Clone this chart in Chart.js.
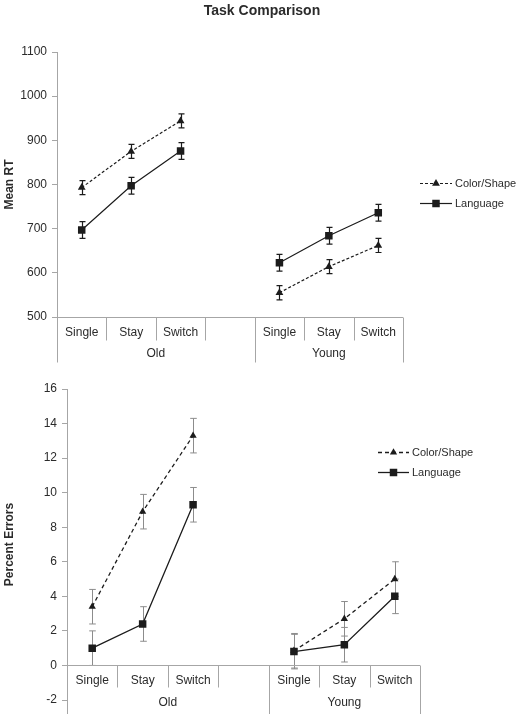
<!DOCTYPE html>
<html><head><meta charset="utf-8">
<script src="https://cdn.jsdelivr.net/npm/chart.js@4/dist/chart.umd.min.js"></script>
<style>
html,body{margin:0;padding:0;background:#fff;}
#wrap{position:relative;width:522px;height:714px;overflow:hidden;background:#fff;}
canvas{position:absolute;left:0;}
</style></head><body>
<div id="wrap">
<canvas id="c1" width="522" height="372" style="top:0px"></canvas>
<canvas id="c2" width="522" height="342" style="top:372px"></canvas>
</div>
<script>
// ---------- data ----------
const chartTitle = 'Task Comparison';
const categories = ['Single', 'Stay', 'Switch', '', 'Single', 'Stay', 'Switch'];
const categoryGroups = ['Old', 'Old', 'Old', 'Old', 'Young', 'Young', 'Young'];
const seriesNames = ['Color/Shape', 'Language'];

const rtTitle = 'Mean RT';
const rtColorShape    = [793, 875, 944, null, 555, 614, 662];
const rtColorShapeErr = [16, 16, 16, null, 16, 16, 16];
const rtLanguage      = [697, 797, 876, null, 623, 684, 736];
const rtLanguageErr   = [19, 19, 19, null, 19, 19, 19];
const rtAxis = { min: 500, max: 1100, step: 100 };

const errTitle = 'Percent Errors';
const errColorShape    = [3.4, 8.9, 13.3, null, 0.85, 2.7, 5.0];
const errColorShapeErr = [1, 1, 1, null, 1, 1, 1];
const errLanguage      = [1.0, 2.4, 9.3, null, 0.8, 1.2, 4.0];
const errLanguageErr   = [1, 1, 1, null, 1, 1, 1];
const errAxis = { min: -2, max: 16, step: 2 };

// ---------- style ----------
const FONT = '"Liberation Sans", Arial, Helvetica, sans-serif';
const AXIS = '#a6a6a6';
const TEXT = '#2b2b2b';
const INK = '#1c1c1c';
Chart.defaults.font.family = FONT;
Chart.defaults.color = TEXT;

function markerPath(ctx, style, x, y, r) {
  ctx.beginPath();
  if (style === 'triangle') {
    ctx.moveTo(x, y - r);
    ctx.lineTo(x + r * 0.866, y + r * 0.5);
    ctx.lineTo(x - r * 0.866, y + r * 0.5);
    ctx.closePath();
  } else {
    const s = r * Math.SQRT1_2;
    ctx.rect(x - s, y - s, 2 * s, 2 * s);
  }
  ctx.fill();
}

const xDecoPlugin = {
  id: 'xdeco',
  afterDraw(chart, args, o) {
    const ctx = chart.ctx, xs = chart.scales.x, ys = chart.scales.y, a = chart.chartArea;
    const n = categories.length;
    const w = (xs.getPixelForValue(1) - xs.getPixelForValue(0));
    const y0 = Math.round(o.axisValue === undefined ? a.bottom : ys.getPixelForValue(o.axisValue)) + 0.5;
    ctx.save();
    ctx.strokeStyle = AXIS; ctx.lineWidth = 1;
    ctx.beginPath(); ctx.moveTo(a.left, y0); ctx.lineTo(a.right, y0); ctx.stroke();
    for (let k = 0; k <= n; k++) {
      const bx = Math.round(xs.getPixelForValue(k) - w / 2) + 0.5;
      const isGroup = k === 0 || k === n || categoryGroups[k] !== categoryGroups[k - 1];
      const len = isGroup ? o.longLen : o.shortLen;
      ctx.beginPath(); ctx.moveTo(bx, y0); ctx.lineTo(bx, y0 + len); ctx.stroke();
    }
    if (o.extendY) {
      const lx = Math.round(a.left) + 0.5;
      ctx.beginPath(); ctx.moveTo(lx, a.bottom); ctx.lineTo(lx, chart.height); ctx.stroke();
    }
    ctx.fillStyle = TEXT; ctx.font = '12px ' + FONT;
    ctx.textAlign = 'center'; ctx.textBaseline = 'middle';
    categories.forEach((c, i) => ctx.fillText(c, xs.getPixelForValue(i), y0 + o.catDy));
    let s = 0;
    while (s < n) {
      let e = s;
      while (e + 1 < n && categoryGroups[e + 1] === categoryGroups[s]) e++;
      const cx = (xs.getPixelForValue(s) + xs.getPixelForValue(e)) / 2;
      ctx.fillText(categoryGroups[s], cx, y0 + o.grpDy);
      s = e + 1;
    }
    if (o.title) {
      ctx.font = 'bold 14px ' + FONT;
      ctx.fillStyle = TEXT;
      ctx.fillText(o.title, chart.width / 2 + 1, o.titleY);
    }
    ctx.restore();
  }
};

const errorBarPlugin = {
  id: 'errbars',
  beforeDatasetsDraw(chart, args, o) {
    const ctx = chart.ctx, xs = chart.scales.x, ys = chart.scales.y;
    ctx.save();
    ctx.strokeStyle = o.color; ctx.lineWidth = o.width;
    chart.data.datasets.forEach(ds => {
      ds.errors.forEach((e, i) => {
        const v = ds.data[i];
        if (v == null || e == null) return;
        const px = Math.round(xs.getPixelForValue(i)) + 0.5;
        const t = ys.getPixelForValue(v + e), b = ys.getPixelForValue(v - e);
        ctx.beginPath();
        ctx.moveTo(px, t); ctx.lineTo(px, b);
        ctx.moveTo(px - o.cap, t); ctx.lineTo(px + o.cap, t);
        ctx.moveTo(px - o.cap, b); ctx.lineTo(px + o.cap, b);
        ctx.stroke();
      });
    });
    ctx.restore();
  }
};

const legendPlugin = {
  id: 'mylegend',
  afterDraw(chart, args, o) {
    const ctx = chart.ctx;
    ctx.save();
    chart.data.datasets.forEach((ds, i) => {
      const y = o.y + i * o.gap;
      ctx.strokeStyle = ds.borderColor; ctx.lineWidth = ds.borderWidth;
      ctx.setLineDash(ds.borderDash || []);
      ctx.beginPath(); ctx.moveTo(o.x, y + 0.5); ctx.lineTo(o.x + o.len, y + 0.5); ctx.stroke();
      ctx.setLineDash([]);
      ctx.fillStyle = ds.pointBackgroundColor;
      markerPath(ctx, ds.pointStyle, o.x + o.len / 2, y + 0.5, ds.pointRadius);
      ctx.fillStyle = TEXT; ctx.font = '11px ' + FONT;
      ctx.textAlign = 'left'; ctx.textBaseline = 'middle';
      ctx.fillText(ds.label, o.x + o.len + 3, y + 1);
    });
    ctx.restore();
  }
};

function makeDatasets(a, aErr, b, bErr, dash, triR, sqR, lw) {
  return [
    { label: seriesNames[0], data: a, errors: aErr, borderColor: INK, borderWidth: lw, borderDash: dash,
      pointStyle: 'triangle', pointRadius: triR, pointBackgroundColor: INK, pointBorderWidth: 0,
      pointHoverRadius: triR, spanGaps: false, tension: 0 },
    { label: seriesNames[1], data: b, errors: bErr, borderColor: INK, borderWidth: lw, borderDash: [],
      pointStyle: 'rect', pointRadius: sqR, pointBackgroundColor: INK, pointBorderWidth: 0,
      pointHoverRadius: sqR, spanGaps: false, tension: 0 }
  ];
}

function yScale(ax, title, width) {
  return {
    type: 'linear', min: ax.min, max: ax.max,
    ticks: { stepSize: ax.step, padding: 5, color: TEXT, font: { size: 12 }, callback: v => String(v) },
    grid: { drawOnChartArea: false, drawTicks: true, tickLength: 5, color: AXIS },
    border: { display: true, color: AXIS },
    title: { display: true, text: title, color: TEXT, font: { size: 12, weight: 'bold' }, padding: { top: 2, bottom: 0 } },
    afterFit(s) { s.width = width; }
  };
}

// ---------- top chart ----------
new Chart(document.getElementById('c1'), {
  type: 'line',
  data: { labels: categories, datasets: makeDatasets(rtColorShape, rtColorShapeErr, rtLanguage, rtLanguageErr, [3, 2], 4.5, 5.3, 1.2) },
  options: {
    responsive: false, animation: false, events: [],
    layout: { padding: { left: 0, right: 119, top: 52, bottom: 55 } },
    scales: {
      x: { type: 'category', offset: true, display: false },
      y: yScale(rtAxis, rtTitle, 57)
    },
    plugins: {
      legend: { display: false }, tooltip: { enabled: false },
      errbars: { color: INK, width: 1.2, cap: 3 },
      xdeco: { shortLen: 23, longLen: 45, catDy: 15, grpDy: 36, title: chartTitle, titleY: 11 },
      mylegend: { x: 420, y: 183, gap: 20, len: 32 }
    }
  },
  plugins: [errorBarPlugin, xDecoPlugin, legendPlugin]
});

// ---------- bottom chart ----------
new Chart(document.getElementById('c2'), {
  type: 'line',
  data: { labels: categories, datasets: makeDatasets(errColorShape, errColorShapeErr, errLanguage, errLanguageErr, [4, 3], 4.2, 5.3, 1.3) },
  options: {
    responsive: false, animation: false, events: [],
    layout: { padding: { left: 0, right: 102, top: 17, bottom: 14 } },
    scales: {
      x: { type: 'category', offset: true, display: false },
      y: yScale(errAxis, errTitle, 67)
    },
    plugins: {
      legend: { display: false }, tooltip: { enabled: false },
      errbars: { color: '#8c8c8c', width: 1, cap: 3.3 },
      xdeco: { axisValue: 0, shortLen: 22, longLen: 60, catDy: 15, grpDy: 37, extendY: true },
      mylegend: { x: 378, y: 80, gap: 20, len: 31 }
    }
  },
  plugins: [errorBarPlugin, xDecoPlugin, legendPlugin]
});
</script>
</body></html>
